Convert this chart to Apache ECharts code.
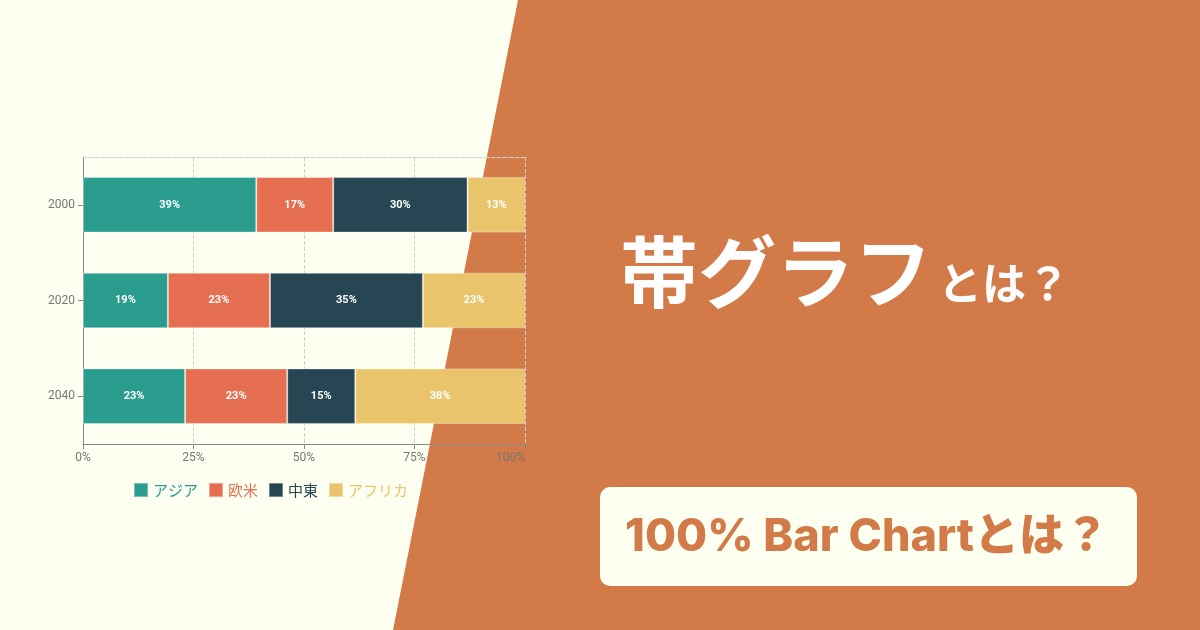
<!DOCTYPE html>
<html>
<head>
<meta charset="utf-8">
<script src="https://cdn.jsdelivr.net/npm/echarts@6/dist/echarts.min.js"></script>
<style>
  html, body { margin: 0; padding: 0; background: #fdfff0; }
  #main { width: 1200px; height: 630px; }
</style>
</head>
<body>
<div id="main"></div>
<script>
// 帯グラフ data (share per year, %)
var years = ['2000', '2020', '2040'];
var regions = ['アジア', '欧米', '中東', 'アフリカ'];
var asia = [39.2, 19.2, 23.1];
var westerners = [17.4, 23.1, 23.1];
var middleEast = [30.4, 34.6, 15.4];
var africa = [13.0, 23.1, 38.4];
var xTicks = [0, 25, 50, 75, 100];

var colors = ['#2a9d8f', '#e76f51', '#264653', '#e9c46a'];
var seriesValues = [asia, westerners, middleEast, africa];

var dom = document.getElementById('main');
var myChart = echarts.init(dom, null, { renderer: 'canvas' });

var series = regions.map(function (name, i) {
    return {
        name: name,
        type: 'bar',
        stack: 'total',
        barCategoryGap: '42%',
        itemStyle: { color: colors[i], borderColor: 'rgba(255,255,255,0.35)', borderWidth: 1 },
        label: {
            show: true,
            color: '#fff',
            fontWeight: 'bold',
            fontSize: 11,
            fontFamily: 'Roboto, sans-serif',
            formatter: function (p) { return Math.round(p.value) + '%'; }
        },
        data: seriesValues[i]
    };
});

var option = {
    backgroundColor: '#fdfff0',
    animation: false,
    textStyle: { fontFamily: "'Noto Sans CJK JP', sans-serif" },
    graphic: [
        {
            type: 'polygon',
            z: -10,
            shape: { points: [[518, 0], [1200, 0], [1200, 630], [393, 630]] },
            style: { fill: '#d27a48' }
        },
        {
            type: 'rect',
            z: -5,
            shape: { x: 600, y: 487, width: 537, height: 99, r: 10 },
            style: { fill: '#fdfff0' }
        },
        {
            type: 'text',
            left: 620,
            top: 233,
            style: {
                text: '{a|帯グラフ}{b|とは？}',
                rich: {
                    a: { fontSize: 78, fontWeight: 'bold', fill: '#fff', fontFamily: "'Noto Sans CJK JP'" },
                    b: { fontSize: 44, fontWeight: 'bold', fill: '#fff', fontFamily: "'Noto Sans CJK JP'", padding: [22, 0, 0, 6] }
                }
            }
        },
        {
            type: 'text',
            x: 867,
            y: 537,
            style: {
                text: '100% Bar Chartとは？',
                fontSize: 45,
                fontWeight: 800,
                fill: '#d27a48',
                fontFamily: "Inter, 'Noto Sans CJK JP'",
                align: 'center',
                verticalAlign: 'middle'
            }
        }
    ],
    legend: {
        left: 128,
        top: 477,
        itemWidth: 14,
        itemHeight: 14,
        itemGap: 10,
        icon: 'rect',
        textStyle: { fontSize: 15 },
        data: regions.map(function (name, i) {
            return { name: name, textStyle: { color: colors[i] } };
        })
    },
    grid: { left: 83, right: 675, top: 157, bottom: 186 },
    xAxis: [
        {
            type: 'value',
            min: xTicks[0],
            max: xTicks[xTicks.length - 1],
            interval: 25,
            axisLine: { show: true, lineStyle: { color: '#888' } },
            axisTick: { show: true, lineStyle: { color: '#888' } },
            axisLabel: {
                color: '#777', fontSize: 12, formatter: '{value}%',
                fontFamily: 'Roboto, sans-serif', alignMaxLabel: 'right'
            },
            splitLine: { show: true, lineStyle: { type: 'dashed', color: '#d0d0d0' } }
        },
        {
            type: 'value',
            position: 'top',
            min: 0,
            max: 100,
            axisLine: { show: true, lineStyle: { type: 'dashed', color: '#d0d0d0' } },
            axisTick: { show: false },
            axisLabel: { show: false },
            splitLine: { show: false }
        }
    ],
    yAxis: {
        type: 'category',
        inverse: true,
        data: years,
        axisLine: { show: true, lineStyle: { color: '#888' } },
        axisTick: { show: true, alignWithLabel: true, lineStyle: { color: '#888' } },
        axisLabel: { color: '#777', fontSize: 12, fontFamily: 'Roboto, sans-serif' }
    },
    series: series
};

myChart.setOption(option);
window.addEventListener('resize', myChart.resize);
</script>
</body>
</html>
